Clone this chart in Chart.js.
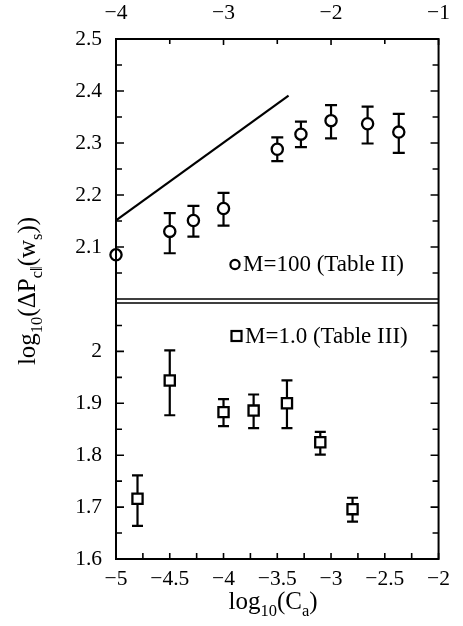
<!DOCTYPE html>
<html><head><meta charset="utf-8">
<script src="https://cdn.jsdelivr.net/npm/chart.js@4/dist/chart.umd.min.js"></script>
<style>html,body{margin:0;padding:0;background:#fff;}#wrap{position:relative;width:463px;height:626px;}</style>
</head><body><div id="wrap"><canvas id="c" width="463" height="626"></canvas></div>
<script>
// ---- data ----
const circleX  = [-4.0, -3.5, -3.28, -3.0, -2.5, -2.28, -2.0, -1.66, -1.37];
const circleY  = [2.085, 2.130, 2.151, 2.174, 2.288, 2.317, 2.343, 2.337, 2.321];
const circleHi = [null, 2.165, 2.179, 2.204, 2.311, 2.341, 2.373, 2.370, 2.356];
const circleLo = [null, 2.088, 2.120, 2.141, 2.265, 2.292, 2.309, 2.299, 2.281];
const squareX  = [-4.8, -4.5, -4.0, -3.72, -3.41, -3.1, -2.8];
const squareY  = [1.716, 1.944, 1.883, 1.886, 1.900, 1.825, 1.696];
const squareHi = [1.761, 2.002, 1.908, 1.917, 1.944, 1.845, 1.718];
const squareLo = [1.664, 1.877, 1.856, 1.852, 1.852, 1.801, 1.672];
const lineX = [-4.0, -2.395];
const lineY = [2.151, 2.391];
// ---- ticks ----
const topXTicks = [-4, -3, -2, -1];
const topXMinor = [-3.5, -2.5, -1.5];
const bottomXTicks = [-5, -4.5, -4, -3.5, -3, -2.5, -2];
const bottomXMinor = [-4.75, -4.25, -3.75, -3.25, -2.75, -2.25];
const topYTicks = [2.1, 2.2, 2.3, 2.4, 2.5];
const topYMinor = [2.05, 2.15, 2.25, 2.35, 2.45];
const bottomYTicks = [1.6, 1.7, 1.8, 1.9, 2.0];
const bottomYMinor = [1.65, 1.75, 1.85, 1.95, 2.05];
const legendTop = 'M=100 (Table II)';
const legendBottom = 'M=1.0 (Table III)';

const SERIF = "'Liberation Serif', 'Times New Roman', serif";
const fmt = v => (v < 0 ? '\u2212' : '') + String(Math.abs(Math.round(v * 100) / 100));
const tickFont = {family: SERIF, size: 21.5};

function axis(extra) {
  return Object.assign({
    type: 'linear',
    grid: {display: false, drawTicks: false},
    border: {display: false}
  }, extra);
}
function tk(padding) {
  return {font: tickFont, color: '#000', autoSkip: false, maxRotation: 0, callback: fmt, padding};
}

function drawRich(ctx, parts, x, y, size) {
  let total = 0;
  const widths = parts.map(p => {
    ctx.font = (p[1] ? size * 0.66 : size) + 'px ' + SERIF;
    const w = ctx.measureText(p[0]).width;
    total += w;
    return w;
  });
  let cx = x - total / 2;
  parts.forEach((p, i) => {
    ctx.font = (p[1] ? size * 0.66 : size) + 'px ' + SERIF;
    ctx.fillText(p[0], cx, y + (p[1] ? size * 0.28 : 0));
    cx += widths[i];
  });
}

const decor = {
  id: 'decor',
  beforeDatasetsDraw(chart) {
    const ctx = chart.ctx;
    const s = chart.scales;
    ctx.save();
    ctx.strokeStyle = '#000';
    ctx.lineWidth = 2.2;
    const bars = (xs, lo, hi, xsc, ysc, cap) => {
      xs.forEach((xv, i) => {
        if (lo[i] == null) return;
        const px = xsc.getPixelForValue(xv);
        const pl = ysc.getPixelForValue(lo[i]);
        const ph = ysc.getPixelForValue(hi[i]);
        ctx.beginPath();
        ctx.moveTo(px, pl); ctx.lineTo(px, ph);
        ctx.moveTo(px - cap, pl); ctx.lineTo(px + cap, pl);
        ctx.moveTo(px - cap, ph); ctx.lineTo(px + cap, ph);
        ctx.stroke();
      });
    };
    bars(circleX, circleLo, circleHi, s.xt, s.yt, 6);
    bars(squareX, squareLo, squareHi, s.xb, s.yb, 5.5);
    ctx.restore();
  },
  afterDraw(chart) {
    const ctx = chart.ctx;
    const a = chart.chartArea;
    const s = chart.scales;
    ctx.save();
    ctx.strokeStyle = '#000';
    ctx.fillStyle = '#000';
    ctx.lineWidth = 2;
    ctx.strokeRect(a.left, a.top, a.right - a.left, a.bottom - a.top);
    ctx.lineWidth = 1.6;
    const yb1 = s.yt.getPixelForValue(2.0);
    const yb2 = s.yb.top;
    ctx.beginPath();
    ctx.moveTo(a.left, yb1); ctx.lineTo(a.right, yb1);
    ctx.moveTo(a.left, yb2); ctx.lineTo(a.right, yb2);
    ctx.stroke();
    const yt = (vals, sc, len) => vals.forEach(v => {
      const p = sc.getPixelForValue(v);
      ctx.beginPath();
      ctx.moveTo(a.left, p); ctx.lineTo(a.left + len, p);
      ctx.moveTo(a.right, p); ctx.lineTo(a.right - len, p);
      ctx.stroke();
    });
    yt(topYTicks, s.yt, 8); yt(topYMinor, s.yt, 6);
    yt(bottomYTicks, s.yb, 8); yt(bottomYMinor, s.yb, 6);
    const xt = (vals, sc, y0, dir, len) => vals.forEach(v => {
      const p = sc.getPixelForValue(v);
      ctx.beginPath();
      ctx.moveTo(p, y0); ctx.lineTo(p, y0 + dir * len);
      ctx.stroke();
    });
    xt(topXTicks, s.xt, a.top, 1, 6); xt(topXMinor, s.xt, a.top, 1, 5);
    xt(bottomXTicks, s.xb, a.bottom, -1, 6); xt(bottomXMinor, s.xb, a.bottom, -1, 6);
    // legends
    ctx.lineWidth = 2.2;
    ctx.beginPath(); ctx.arc(235, 264.5, 4.6, 0, Math.PI * 2); ctx.stroke();
    ctx.strokeRect(231.5, 331, 10, 10);
    ctx.font = '23px ' + SERIF;
    ctx.textAlign = 'left';
    ctx.textBaseline = 'alphabetic';
    ctx.fillText(legendTop, 243, 271);
    ctx.fillText(legendBottom, 245, 343);
    // axis titles
    drawRich(ctx, [['log', 0], ['10', 1], ['(C', 0], ['a', 1], [')', 0]], 273, 609, 25);
    ctx.translate(35, 291);
    ctx.rotate(-Math.PI / 2);
    drawRich(ctx, [['log', 0], ['10', 1], ['(\u0394P', 0], ['c\u2016', 1], ['(w', 0], ['s', 1], ['))', 0]], 0, 0, 25);
    ctx.restore();
  }
};

new Chart(document.getElementById('c'), {
  data: {
    datasets: [
      {type: 'line', data: lineX.map((x, i) => ({x, y: lineY[i]})), xAxisID: 'xt', yAxisID: 'yt',
       borderColor: '#000', borderWidth: 2.2, pointRadius: 0, clip: false},
      {type: 'scatter', data: circleX.map((x, i) => ({x, y: circleY[i]})), xAxisID: 'xt', yAxisID: 'yt',
       pointStyle: 'circle', radius: 5.6, borderWidth: 2.3, borderColor: '#000', backgroundColor: '#fff', clip: false},
      {type: 'scatter', data: squareX.map((x, i) => ({x, y: squareY[i]})), xAxisID: 'xb', yAxisID: 'yb',
       pointStyle: 'rect', radius: 7.2, borderWidth: 2.3, borderColor: '#000', backgroundColor: '#fff', clip: false}
    ]
  },
  options: {
    responsive: false,
    animation: false,
    layout: {padding: {left: 0, right: 17, top: 0, bottom: 0}},
    plugins: {legend: {display: false}, tooltip: {enabled: false}},
    scales: {
      xb: axis({position: 'bottom', min: -5, max: -2,
        afterBuildTicks: sc => { sc.ticks = bottomXTicks.map(v => ({value: v})); },
        afterFit: sc => { sc.height = 67; }, ticks: tk(7)}),
      xt: axis({position: 'top', min: -4, max: -1,
        afterBuildTicks: sc => { sc.ticks = topXTicks.map(v => ({value: v})); },
        afterFit: sc => { sc.height = 39; }, ticks: tk(13)}),
      yt: axis({position: 'left', stack: 'y', stackWeight: 264, weight: 1, min: 1.99231, max: 2.5,
        afterBuildTicks: sc => { sc.ticks = topYTicks.map(v => ({value: v})); },
        afterFit: sc => { sc.width = 116; }, ticks: tk(14)}),
      yb: axis({position: 'left', stack: 'y', stackWeight: 256, weight: 0, min: 1.6, max: 2.09326,
        afterBuildTicks: sc => { sc.ticks = bottomYTicks.map(v => ({value: v})); },
        afterFit: sc => { sc.width = 116; }, ticks: tk(14)})
    }
  },
  plugins: [decor]
});
</script>
</body></html>
